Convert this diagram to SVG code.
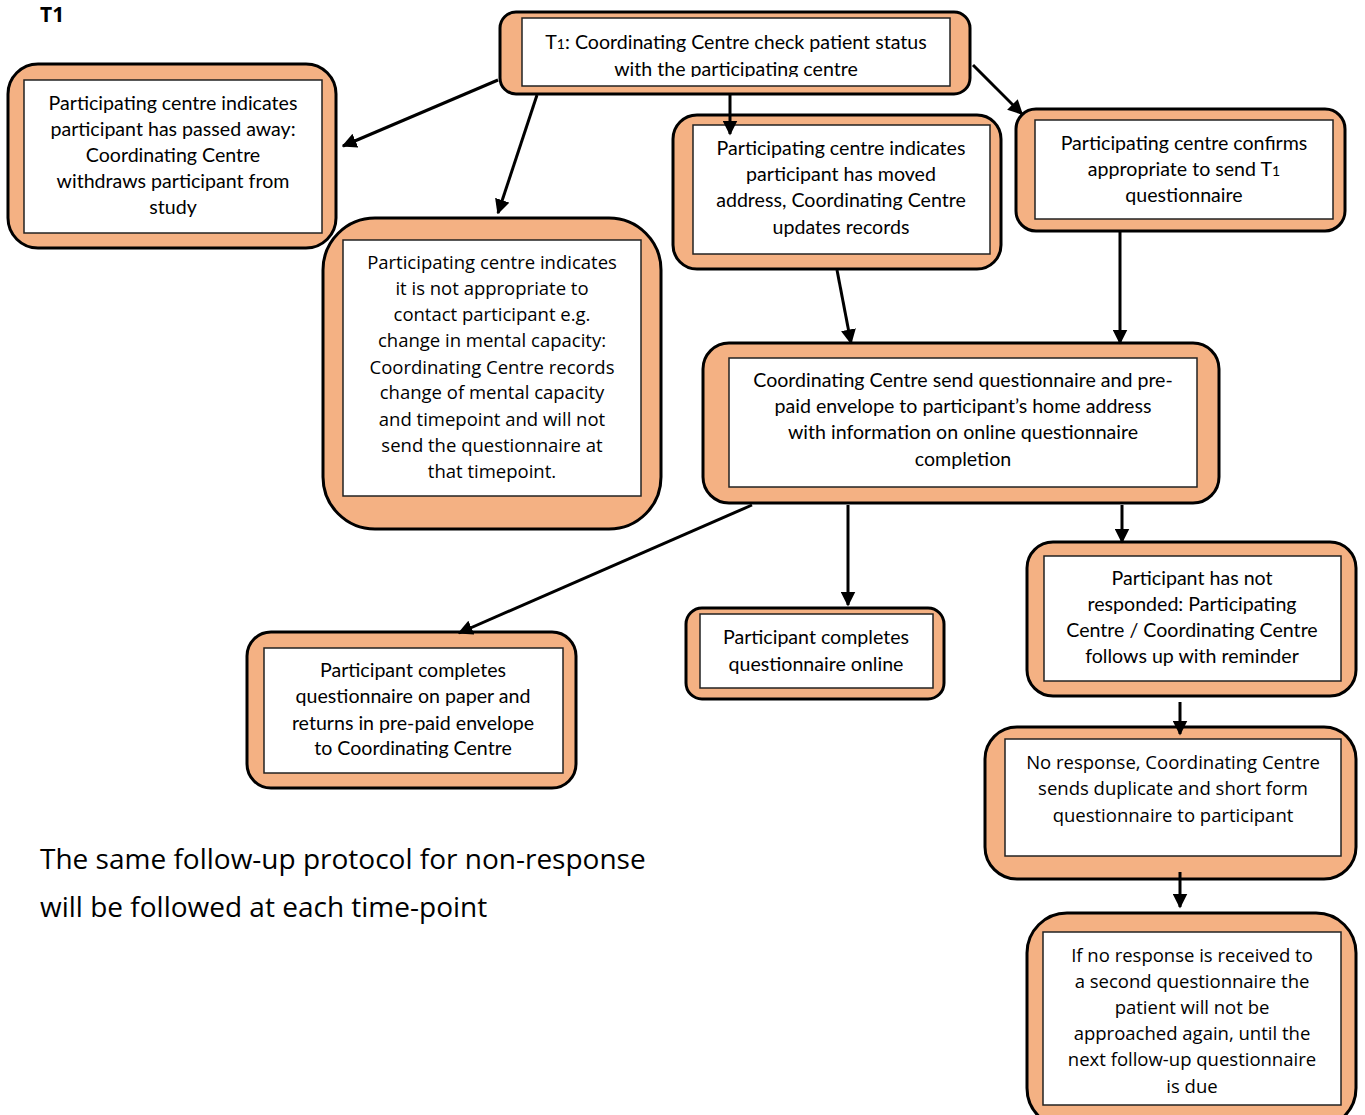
<svg xmlns="http://www.w3.org/2000/svg" width="1365" height="1115" viewBox="0 0 1365 1115">
<style>
.o{fill:#F4B183;stroke:#000;stroke-width:3}
.i{fill:#fff;stroke:#222;stroke-width:1.5}
.c{font-family:Lato,"Open Sans",sans-serif;font-size:19.6px;fill:#000;text-anchor:middle}
.s{font-family:"Open Sans","Noto Sans",sans-serif;font-size:18.5px;fill:#000;text-anchor:middle}
.e{stroke:#000;stroke-width:3;fill:none;marker-end:url(#ah)}
</style>
<defs>
<marker id="ah" viewBox="0 0 10 10" refX="9" refY="5" markerWidth="5" markerHeight="5" orient="auto" markerUnits="strokeWidth">
<path d="M0,0 L10,5 L0,10 z" fill="#000"/>
</marker>
<clipPath id="tc"><rect x="522" y="18" width="428" height="59"/></clipPath>
</defs>
<rect width="1365" height="1115" fill="#fff"/>
<text x="40" y="22" font-family="'Open Sans',sans-serif" font-weight="bold" font-size="21">T1</text>

<g id="top">
<rect class="o" x="500" y="12" width="470" height="82" rx="16"/>
<rect class="i" x="522" y="18" width="428" height="68"/>
<g clip-path="url(#tc)">
<text class="c" x="736" y="49">T<tspan font-size="14">1</tspan>: Coordinating Centre check patient status</text>
<text class="c" x="736" y="76">with the participating centre</text>
</g>
</g>

<g id="passed">
<rect class="o" x="8" y="64" width="328" height="184" rx="30"/>
<rect class="i" x="24" y="80" width="298" height="153"/>
<text class="c" x="173" y="110">Participating centre indicates</text>
<text class="c" x="173" y="136">participant has passed away:</text>
<text class="c" x="173" y="162">Coordinating Centre</text>
<text class="c" x="173" y="188">withdraws participant from</text>
<text class="c" x="173" y="214">study</text>
</g>

<g id="capacity">
<rect class="o" x="323" y="218" width="338" height="311" rx="52"/>
<rect class="i" x="343" y="240" width="298" height="256"/>
<text class="s" x="492" y="269">Participating centre indicates</text>
<text class="s" x="492" y="295">it is not appropriate to</text>
<text class="s" x="492" y="321">contact participant e.g.</text>
<text class="s" x="492" y="347">change in mental capacity:</text>
<text class="s" x="492" y="374">Coordinating Centre records</text>
<text class="s" x="492" y="399">change of mental capacity</text>
<text class="s" x="492" y="426">and timepoint and will not</text>
<text class="s" x="492" y="452">send the questionnaire at</text>
<text class="s" x="492" y="478">that timepoint.</text>
</g>

<g id="moved">
<rect class="o" x="673" y="115" width="328" height="154" rx="24"/>
<rect class="i" x="693" y="125" width="297" height="129"/>
<text class="c" x="841" y="155">Participating centre indicates</text>
<text class="c" x="841" y="181">participant has moved</text>
<text class="c" x="841" y="207">address, Coordinating Centre</text>
<text class="c" x="841" y="234">updates records</text>
</g>

<g id="confirms">
<rect class="o" x="1016" y="109" width="329" height="122" rx="20"/>
<rect class="i" x="1035" y="120" width="298" height="99"/>
<text class="c" x="1184" y="150">Participating centre confirms</text>
<text class="c" x="1184" y="176">appropriate to send T<tspan font-size="14">1</tspan></text>
<text class="c" x="1184" y="202">questionnaire</text>
</g>

<g id="send">
<rect class="o" x="703" y="343" width="516" height="160" rx="26"/>
<rect class="i" x="729" y="358" width="468" height="129"/>
<text class="c" x="963" y="387">Coordinating Centre send questionnaire and pre-</text>
<text class="c" x="963" y="413">paid envelope to participant’s home address</text>
<text class="c" x="963" y="439">with information on online questionnaire</text>
<text class="c" x="963" y="466">completion</text>
</g>

<g id="paper">
<rect class="o" x="247" y="632" width="329" height="156" rx="24"/>
<rect class="i" x="264" y="648" width="299" height="125"/>
<text class="c" x="413" y="677">Participant completes</text>
<text class="c" x="413" y="703">questionnaire on paper and</text>
<text class="c" x="413" y="730">returns in pre-paid envelope</text>
<text class="c" x="413" y="755">to Coordinating Centre</text>
</g>

<g id="online">
<rect class="o" x="686" y="608" width="258" height="91" rx="16"/>
<rect class="i" x="700" y="614" width="233" height="74"/>
<text class="c" x="816" y="644">Participant completes</text>
<text class="c" x="816" y="671">questionnaire online</text>
</g>

<g id="noresp1">
<rect class="o" x="1027" y="542" width="329" height="154" rx="26"/>
<rect class="i" x="1044" y="556" width="297" height="125"/>
<text class="c" x="1192" y="585">Participant has not</text>
<text class="c" x="1192" y="611">responded: Participating</text>
<text class="c" x="1192" y="637">Centre / Coordinating Centre</text>
<text class="c" x="1192" y="663">follows up with reminder</text>
</g>

<g id="noresp2">
<rect class="o" x="985" y="727" width="371" height="152" rx="32"/>
<rect class="i" x="1005" y="739" width="336" height="117"/>
<text class="s" x="1173" y="769">No response, Coordinating Centre</text>
<text class="s" x="1173" y="795">sends duplicate and short form</text>
<text class="s" x="1173" y="822">questionnaire to participant</text>
</g>

<g id="final">
<rect class="o" x="1027" y="913" width="329" height="215" rx="40"/>
<rect class="i" x="1043" y="932" width="298" height="173"/>
<text class="s" x="1192" y="962">If no response is received to</text>
<text class="s" x="1192" y="988">a second questionnaire the</text>
<text class="s" x="1192" y="1014">patient will not be</text>
<text class="s" x="1192" y="1040">approached again, until the</text>
<text class="s" x="1192" y="1066">next follow-up questionnaire</text>
<text class="s" x="1192" y="1093">is due</text>
</g>

<g id="note" font-family="'Open Sans',sans-serif" font-size="28" fill="#000">
<text x="40" y="869">The same follow-up protocol for non-response</text>
<text x="40" y="917">will be followed at each time-point</text>
</g>

<g id="connectors">
<line class="e" x1="498" y1="80" x2="343" y2="146"/>
<line class="e" x1="537" y1="95" x2="498" y2="213"/>
<line class="e" x1="730" y1="95" x2="730" y2="134"/>
<line class="e" x1="973" y1="65" x2="1022" y2="114"/>
<line class="e" x1="837" y1="270" x2="851" y2="343"/>
<line class="e" x1="1120" y1="232" x2="1120" y2="343"/>
<line class="e" x1="752" y1="505" x2="459" y2="633"/>
<line class="e" x1="848" y1="505" x2="848" y2="605"/>
<line class="e" x1="1122" y1="505" x2="1122" y2="542"/>
<line class="e" x1="1180" y1="702" x2="1180" y2="734"/>
<line class="e" x1="1180" y1="872" x2="1180" y2="907"/>
</g>
</svg>
